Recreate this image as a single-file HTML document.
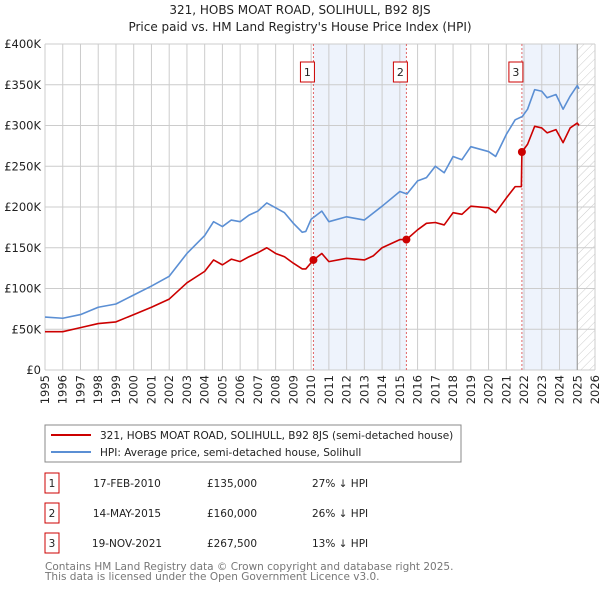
<!DOCTYPE html>
<html><head><meta charset="utf-8"><style>
body{margin:0;background:#fff;width:600px;height:590px;overflow:hidden;font-family:"DejaVu Sans","Liberation Sans",sans-serif;}
svg text{font-family:"DejaVu Sans","Liberation Sans",sans-serif;}
</style></head><body>
<svg id="c" width="600" height="590" xmlns="http://www.w3.org/2000/svg">
<defs><pattern id="hatch" width="6" height="6" patternUnits="userSpaceOnUse" patternTransform="rotate(45)"><line x1="0" y1="0" x2="0" y2="6" stroke="#ccc" stroke-width="1"/></pattern></defs>
<text x="300" y="14" text-anchor="middle" font-size="12" fill="#222">321, HOBS MOAT ROAD, SOLIHULL, B92 8JS</text>
<text x="300" y="31" text-anchor="middle" font-size="12" fill="#222">Price paid vs. HM Land Registry's House Price Index (HPI)</text>
<g id="plot"></g>
<rect x="45" y="425" width="416" height="37" fill="#fff" stroke="#888"/>
<line x1="51" y1="435" x2="91" y2="435" stroke="#cc0000" stroke-width="2"/>
<text x="100" y="439" font-size="10.5" fill="#222">321, HOBS MOAT ROAD, SOLIHULL, B92 8JS (semi-detached house)</text>
<line x1="51" y1="452" x2="91" y2="452" stroke="#5b8fd4" stroke-width="2"/>
<text x="100" y="456" font-size="10.5" fill="#222">HPI: Average price, semi-detached house, Solihull</text>
<g id="table" font-size="10.5" fill="#222"></g>
<text x="45" y="570" font-size="10.5" fill="#777">Contains HM Land Registry data © Crown copyright and database right 2025.</text>
<text x="45" y="580" font-size="10.5" fill="#777">This data is licensed under the Open Government Licence v3.0.</text>
</svg>
<script>
const hpiYears=[1995,1996,1997,1998,1999,2000,2001,2002,2003,2004,2004.5,2005,2005.5,2006,2006.5,2007,2007.5,2008,2008.5,2009,2009.5,2009.7,2010,2010.6,2011,2012,2013,2014,2015,2015.4,2016,2016.5,2017,2017.5,2018,2018.5,2019,2020,2020.4,2021,2021.5,2021.9,2022.2,2022.6,2023,2023.3,2023.8,2024.2,2024.6,2025,2025.1];
const hpiValues=[65,63.5,68,77,81,92,103,115,143,165,182,176,184,182,190,195,205,199,193,180,169,170,185,195,182,188,184,201,219,216,232,236,250,242,262,258,274,268,262,289,307,311,320,344,342,334,338,320,336,349,345];
const ppYears=[1995,1996,1997,1998,1999,2000,2001,2002,2003,2004,2004.5,2005,2005.5,2006,2006.5,2007,2007.5,2008,2008.5,2009,2009.5,2009.7,2010.13,2010.6,2011,2012,2013,2013.5,2014,2015,2015.37,2016,2016.5,2017,2017.5,2018,2018.5,2019,2020,2020.4,2021,2021.5,2021.85,2021.88,2022.2,2022.6,2023,2023.3,2023.8,2024.2,2024.6,2025,2025.1];
const ppValues=[47,47,52,57,59,68,77,87,107,121,135,129,136,133,139,144,150,143,139,131,124,124,135,143,133,137,135,140,150,160,160,172,180,181,178,193,191,201,199,193,211,225,225,267.5,277,299,297,291,295,279,297,303,300];
const saleYears=[2010.13,2015.37,2021.88];
const saleValues=[135,160,267.5];
const saleLabels=["1","2","3"];
const saleDates=["17-FEB-2010","14-MAY-2015","19-NOV-2021"];
const salePrices=["£135,000","£160,000","£267,500"];
const saleDiffs=["27% ↓ HPI","26% ↓ HPI","13% ↓ HPI"];
const yTicks=[0,50,100,150,200,250,300,350,400];
const yTickLabels=["£0","£50K","£100K","£150K","£200K","£250K","£300K","£350K","£400K"];
const xTicks=[1995,1996,1997,1998,1999,2000,2001,2002,2003,2004,2005,2006,2007,2008,2009,2010,2011,2012,2013,2014,2015,2016,2017,2018,2019,2020,2021,2022,2023,2024,2025,2026];

const NS="http://www.w3.org/2000/svg";
const X0=45,X1=595,Y0=370,Y1=44;
const xs=y=>X0+(y-1995)/31*(X1-X0);
const ys=v=>Y0-v/400*(Y0-Y1);
const plot=document.getElementById('plot');
function mk(tag,attrs,parent){const e=document.createElementNS(NS,tag);for(const k in attrs)e.setAttribute(k,attrs[k]);(parent||plot).appendChild(e);return e;}
mk('rect',{x:X0,y:Y1,width:X1-X0,height:Y0-Y1,fill:'#fff'});
// shaded spans
let s1=mk('rect',{x:xs(saleYears[0]),y:Y1,width:xs(saleYears[1])-xs(saleYears[0]),height:Y0-Y1,fill:'#eef3fc'});


let s2=mk('rect',{x:xs(saleYears[2]),y:Y1,width:xs(2025)-xs(saleYears[2]),height:Y0-Y1,fill:'#eef3fc'});


let h=mk('rect',{x:xs(2025),y:Y1,width:X1-xs(2025),height:Y0-Y1,fill:'url(#hatch)'});


xTicks.forEach(t=>{
  mk('line',{x1:xs(t),x2:xs(t),y1:Y1,y2:Y0,stroke:'#ccc','stroke-width':1});
  const tx=mk('text',{x:0,y:0,transform:`translate(${xs(t)+4},${Y0+5}) rotate(-90)`,'text-anchor':'end','font-size':'11.5',fill:'#222'});
  tx.textContent=t;
  
  
});
yTicks.forEach((t,i)=>{
  mk('line',{x1:X0,x2:X1,y1:ys(t),y2:ys(t),stroke:'#ccc','stroke-width':1});
  const tx=mk('text',{x:X0-4,y:ys(t)+4,'text-anchor':'end','font-size':'11.5',fill:'#222'});
  tx.textContent=yTickLabels[i];
  
  
});
mk('line',{x1:xs(2025),x2:xs(2025),y1:Y1,y2:Y0,stroke:'#999','stroke-width':1});
saleYears.forEach((y,i)=>{
  const l=mk('line',{x1:xs(y),x2:xs(y),y1:Y1,y2:Y0,stroke:'#e06666','stroke-width':1,'stroke-dasharray':'2,2'});
  
  
  const b=mk('rect',{x:xs(y)-13,y:62,width:14,height:20,fill:'#fff',stroke:'#cc0000'});
  
  
  const t=mk('text',{x:xs(y)-6,y:76,'text-anchor':'middle','font-size':'11',fill:'#222'});
  t.textContent=saleLabels[i];
});
const line=(xa,va,c,name)=>{
  const p=mk('polyline',{points:xa.map((y,i)=>xs(y)+','+ys(va[i])).join(' '),fill:'none',stroke:c,'stroke-width':1.6,'stroke-linejoin':'round'});
  
  
};
line(hpiYears,hpiValues,'#5b8fd4','hpi-line');
line(ppYears,ppValues,'#cc0000','price-paid-line');
saleYears.forEach((y,i)=>{
  const c=mk('circle',{cx:xs(y),cy:ys(saleValues[i]),r:4,fill:'#cc0000'});
  
  
});
const tb=document.getElementById('table');
saleLabels.forEach((l,i)=>{
  const cy=483+i*30;
  const b=mk('rect',{x:45,y:cy-10,width:14,height:20,fill:'#fff',stroke:'#cc0000'},tb);
  
  
  const vals=[[l,52,'middle'],[saleDates[i],127,'middle'],[salePrices[i],232,'middle'],[saleDiffs[i],312,'start']];
  vals.forEach(v=>{const t=mk('text',{x:v[1],y:cy+4,'text-anchor':v[2]},tb);t.textContent=v[0];
    
    });
});
</script>
</body></html>
